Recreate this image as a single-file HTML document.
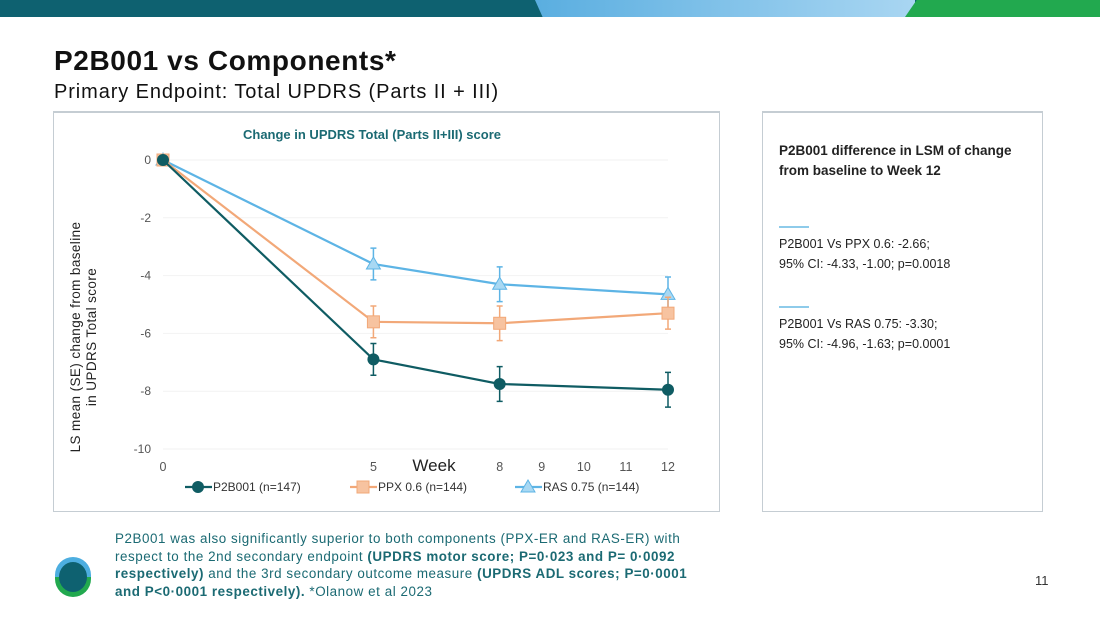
<!DOCTYPE html>
<html><head><meta charset="utf-8"><style>
body{margin:0;width:1100px;height:619px;overflow:hidden;background:#fff;font-family:"Liberation Sans",sans-serif;position:relative}
.abs{position:absolute}
</style></head><body>
<div class="abs" style="left:0;top:0;width:1100px;height:17px;background:#0e6170"></div>
<div class="abs" style="left:535px;top:0;width:380px;height:17px;background:linear-gradient(90deg,#5aaee0,#a9d6f2);clip-path:polygon(0 0,100% 0,100% 100%,2% 100%)"></div>
<div class="abs" style="left:905px;top:0;width:195px;height:17px;background:#22a94f;clip-path:polygon(6% 0,100% 0,100% 100%,0 100%)"></div>
<div class="abs" style="left:54px;top:45px;font-size:28px;font-weight:bold;color:#111;letter-spacing:0.6px">P2B001 vs Components*</div>
<div class="abs" style="left:54px;top:81px;font-size:20px;color:#111;letter-spacing:0.9px">Primary Endpoint: Total UPDRS (Parts II + III)</div>
<div class="abs" style="left:53px;top:111px;width:665px;height:398px;border:1px solid #c5cdd3;border-top:2px solid #c5cdd3"></div>
<div class="abs" style="left:762px;top:111px;width:279px;height:398px;border:1px solid #c5cdd3;border-top:2px solid #c5cdd3"></div>
<div class="abs" style="left:779px;top:141px;font-size:13.5px;font-weight:bold;color:#222;line-height:20px">P2B001 difference in LSM of change<br>from baseline to Week 12</div>
<div class="abs" style="left:779px;top:226px;width:30px;height:2px;background:#8ecbea"></div>
<div class="abs" style="left:779px;top:234px;font-size:12.5px;color:#222;line-height:20px">P2B001 Vs PPX 0.6: -2.66;<br>95% CI: -4.33, -1.00; p=0.0018</div>
<div class="abs" style="left:779px;top:306px;width:30px;height:2px;background:#8ecbea"></div>
<div class="abs" style="left:779px;top:314px;font-size:12.5px;color:#222;line-height:20px">P2B001 Vs RAS 0.75: -3.30;<br>95% CI: -4.96, -1.63; p=0.0001</div>
<svg class="abs" style="left:0;top:0" width="1100" height="619">
<text x="372" y="139" text-anchor="middle" font-size="13" font-weight="bold" fill="#1b6a73">Change in UPDRS Total (Parts II+III) score</text>
<text transform="translate(80,337) rotate(-90)" text-anchor="middle" font-size="13.5" fill="#222" letter-spacing="0.4"><tspan x="0" dy="0">LS mean (SE) change from baseline</tspan><tspan x="0" dy="16">in UPDRS Total score</tspan></text>
<g id="grid"></g><g id="axes"></g><g id="series"></g>
<text x="434" y="471" text-anchor="middle" font-size="17" fill="#222">Week</text>
<g id="legend" font-size="12" fill="#333"></g>
</svg>
<div class="abs" style="left:55px;top:557px;width:36px;height:40px">
<div style="position:absolute;left:0;top:0;width:36px;height:20px;background:#4daee0;border-radius:18px 18px 0 0"></div>
<div style="position:absolute;left:0;top:20px;width:36px;height:20px;background:#22a94f;border-radius:0 0 18px 18px"></div>
<div style="position:absolute;left:4px;top:5px;width:28px;height:30px;background:#0e6170;border-radius:50%"></div>
</div>
<div class="abs" style="left:115px;top:530px;width:640px;font-size:13.4px;line-height:17.5px;color:#1b6a73;letter-spacing:0.55px">P2B001 was also significantly superior to both components (PPX-ER and RAS-ER) with<br>respect to the 2nd secondary endpoint <b>(UPDRS motor score; P=0·023 and P= 0·0092<br>respectively)</b> and the 3rd secondary outcome measure <b>(UPDRS ADL scores; P=0·0001<br>and P&lt;0·0001 respectively).</b> *Olanow et al 2023</div>
<div class="abs" style="left:1035px;top:573px;font-size:13px;color:#333">11</div>
<script>
const weeks=[0,5,8,12];
const p2b=[0,-6.9,-7.75,-7.95];
const ppx=[0,-5.6,-5.65,-5.3];
const ras=[0,-3.6,-4.3,-4.65];
const p2bSE=[0,0.55,0.6,0.6];
const ppxSE=[0,0.55,0.6,0.55];
const rasSE=[0,0.55,0.6,0.6];
const yTicks=[0,-2,-4,-6,-8,-10];
const xTicks=[0,5,8,9,10,11,12];
const NS="http://www.w3.org/2000/svg";
const X=w=>163+w*(668-163)/12;
const Y=v=>160+(-v)*(449-160)/10;
function mk(t,a,p){const e=document.createElementNS(NS,t);for(const k in a)e.setAttribute(k,a[k]);p.appendChild(e);return e;}
const grid=document.getElementById('grid'),axes=document.getElementById('axes'),ser=document.getElementById('series'),leg=document.getElementById('legend');
yTicks.forEach(v=>{
 const l=mk('line',{x1:163,x2:668,y1:Y(v),y2:Y(v),stroke:'#f2f2f2'},grid);
 
 const t=mk('text',{x:151,y:Y(v)+4,'text-anchor':'end','font-size':12,fill:'#555'},axes);t.textContent=v;
 
});
xTicks.forEach(w=>{
 const t=mk('text',{x:X(w),y:471,'text-anchor':'middle','font-size':12.5,fill:'#555'},axes);t.textContent=w;
 
});
function marker(shape,x,y,color,fill,g){
 if(shape==='c')return mk('circle',{cx:x,cy:y,r:6,fill:color},g);
 if(shape==='s')return mk('rect',{x:x-6,y:y-6,width:12,height:12,fill:fill,stroke:color,'stroke-width':1},g);
 return mk('polygon',{points:`${x},${y-7} ${x+7},${y+5} ${x-7},${y+5}`,fill:fill,stroke:color,'stroke-width':1},g);
}
const S=[
 {name:'ras',vals:ras,se:rasSE,color:'#5db4e5',fill:'#a8d8f3',shape:'t',label:'RAS 0.75 (n=144)',lx:515},
 {name:'ppx',vals:ppx,se:ppxSE,color:'#f2a878',fill:'#f7c3a0',shape:'s',label:'PPX 0.6 (n=144)',lx:350},
 {name:'p2b001',vals:p2b,se:p2bSE,color:'#0f5c63',fill:'#0f5c63',shape:'c',label:'P2B001 (n=147)',lx:185}
];
S.forEach(s=>{
 const g=mk('g',{},ser);
 
 const pl=mk('polyline',{points:weeks.map((w,i)=>X(w)+','+Y(s.vals[i])).join(' '),fill:'none',stroke:s.color,'stroke-width':2.2},g);
 
 weeks.forEach((w,i)=>{
  if(s.se[i]>0){const x=X(w),y1=Y(s.vals[i]+s.se[i]),y2=Y(s.vals[i]-s.se[i]);
   const e=mk('path',{d:`M${x},${y1}V${y2}M${x-3},${y1}H${x+3}M${x-3},${y2}H${x+3}`,stroke:s.color,'stroke-width':1.5,fill:'none'},g);
   }
  const m=marker(s.shape,X(w),Y(s.vals[i]),s.color,s.fill,g);
  
 });
 const lg=mk('g',{},leg);
 
 mk('line',{x1:s.lx,x2:s.lx+27,y1:487,y2:487,stroke:s.color,'stroke-width':2.2},lg);
 marker(s.shape,s.lx+13,487,s.color,s.fill,lg);
 const t=mk('text',{x:s.lx+28,y:491},lg);t.textContent=s.label;
});
</script>
</body></html>
